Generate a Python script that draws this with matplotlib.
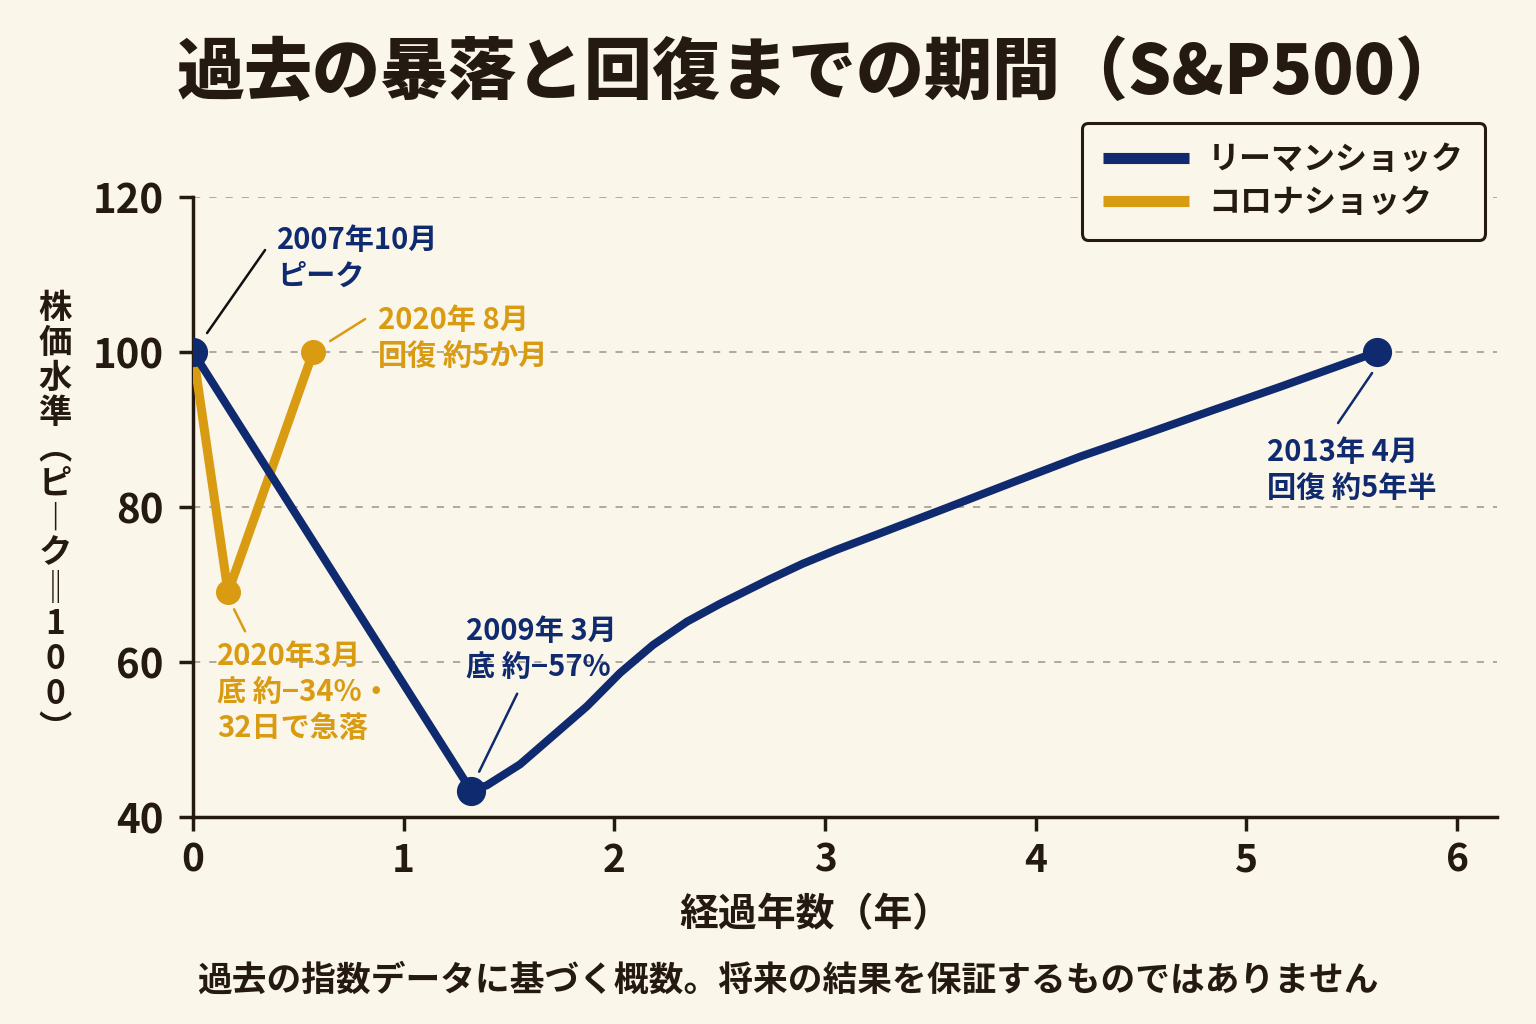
import matplotlib
matplotlib.use("Agg")
import matplotlib.pyplot as plt
import matplotlib.transforms as mtrans

plt.rcParams['font.family'] = ['Noto Sans CJK JP', 'DejaVu Sans']

# 色
BG = '#FBF6EA'
NAVY = '#0F2A6E'
GOLD = '#D99B12'
INK = '#241A12'

# データ（ピーク=100、経過年数）
lehman_x = [0, 1.32, 1.395, 1.552, 1.709, 1.870, 2.027, 2.183, 2.344, 2.50, 2.738, 2.895,
            3.056, 3.26, 3.578, 3.892, 4.21, 4.528, 4.841, 5.159, 5.477, 5.62]
lehman_y = [100, 43.4, 44.1, 46.8, 50.5, 54.3, 58.6, 62.2, 65.2, 67.5, 70.7, 72.7,
            74.5, 76.6, 79.9, 83.2, 86.5, 89.5, 92.5, 95.5, 98.6, 100]
lehman_pts_x = [0, 1.32, 5.62]
lehman_pts_y = [100, 43.4, 100]

corona_x = [0, 0.166, 0.57]
corona_y = [100, 69, 100]

x_ticks = [0, 1, 2, 3, 4, 5, 6]
y_ticks = [40, 60, 80, 100, 120]

legend_labels = ['リーマンショック', 'コロナショック']

fig = plt.figure(figsize=(15.36, 10.24), dpi=100, facecolor=BG)
ax = fig.add_axes([0.1257, 0.2021, 0.849, 0.6055], facecolor=BG)

# 線
g_line, = ax.plot(corona_x, corona_y, color=GOLD, lw=6.5, solid_capstyle='round', zorder=3)
ax.plot(corona_x[1:], corona_y[1:], 'o', color=GOLD, ms=17, zorder=4)
n_line, = ax.plot(lehman_x, lehman_y, color=NAVY, lw=5.8, solid_capstyle='round',
                  solid_joinstyle='round', zorder=5)
ax.plot(lehman_pts_x, lehman_pts_y, 'o', color=NAVY, ms=20, zorder=6)

ax.set_xlim(0, 6.19)
ax.set_ylim(40, 120)
ax.set_xticks(x_ticks)
ax.set_yticks(y_ticks)
ax.yaxis.grid(True, linestyle=(0, (4, 5)), color='#A9A39A', lw=1.3)
ax.set_axisbelow(True)

for s in ['top', 'right']:
    ax.spines[s].set_visible(False)
for s in ['left', 'bottom']:
    ax.spines[s].set_color(INK)
    ax.spines[s].set_linewidth(2.5)

ax.tick_params(axis='y', labelsize=29, length=10, width=2.5, color=INK, labelcolor=INK, pad=11)
ax.tick_params(axis='x', labelsize=28, length=10, width=2.5, color=INK, labelcolor=INK, pad=7)
for lab in ax.get_xticklabels() + ax.get_yticklabels():
    lab.set_fontweight('bold')


# 注記（引き出し線＋テキスト、オフセットはピクセル）
def leader(x, y, p0, p1, col):
    base = ax.transData.transform((x, y))
    a = ax.transData.inverted().transform((base[0] + p0[0], base[1] + p0[1]))
    b = ax.transData.inverted().transform((base[0] + p1[0], base[1] + p1[1]))
    ax.annotate('', xy=a, xytext=b, arrowprops=dict(arrowstyle='-', color=col, lw=1.8,
                                                     shrinkA=0, shrinkB=0), zorder=2)


def label(x, y, off, txt, col):
    ax.text(x, y, txt, color=col, fontsize=21, fontweight='bold', ha='left', va='top',
            transform=ax.transData + mtrans.ScaledTranslation(
                off[0] / 100, off[1] / 100, fig.dpi_scale_trans),
            linespacing=1.25, zorder=7)


leader(0, 100, (14, 19), (72, 102), '#111111')
label(0, 100, (84, 127), '2007年10月\nピーク', NAVY)

leader(0.57, 100, (17, 11), (52, 33), GOLD)
label(0.57, 100, (65, 47), '2020年 8月\n回復 約5か月', GOLD)

leader(0.166, 69, (6, -17), (17, -39), GOLD)
label(0.166, 69, (-11, -49), '2020年3月\n底 約−34%・\n32日で急落', GOLD)

leader(1.32, 43.4, (8, 19), (46, 97), NAVY)
label(1.32, 43.4, (-5, 175), '2009年 3月\n底 約−57%', NAVY)

leader(5.62, 100, (-5, -21), (-39, -71), NAVY)
label(5.62, 100, (-110, -85), '2013年 4月\n回復 約5年半', NAVY)

# 凡例
leg = fig.legend([n_line, g_line], legend_labels, loc='upper right',
                 bbox_to_anchor=(0.9668, 0.8799), borderaxespad=0,
                 prop={'size': 23, 'weight': 'bold'},
                 frameon=True, fancybox=True, facecolor=BG, edgecolor=INK,
                 handlelength=2.7, handletextpad=0.6, borderpad=0.65, labelspacing=0.35,
                 framealpha=1)
leg.get_frame().set_linewidth(2.2)
for ln in leg.get_lines():
    ln.set_linewidth(8)
    ln.set_solid_capstyle('butt')
for t in leg.get_texts():
    t.set_color(INK)

# タイトル・軸ラベル
fig.text(0.534, 1 - 74 / 1024, '過去の暴落と回復までの期間（S&P500）', ha='center', va='center',
         fontsize=49, fontweight='black', color=INK)
fig.text(0.0358, 1 - 519 / 1024, '\n'.join('株価水準︵ピ︱ク‖100︶'), ha='center', va='center',
         fontsize=24, fontweight='bold', color=INK, linespacing=1.08)
fig.text(0.5306, 1 - 915 / 1024, '経過年数（年）', ha='center', va='center',
         fontsize=28, fontweight='bold', color=INK)
fig.text(0.513, 1 - 980 / 1024, '過去の指数データに基づく概数。将来の結果を保証するものではありません',
         ha='center', va='center', fontsize=25, fontweight='bold', color=INK)

fig.savefig('out.png', dpi=100, facecolor=BG)
